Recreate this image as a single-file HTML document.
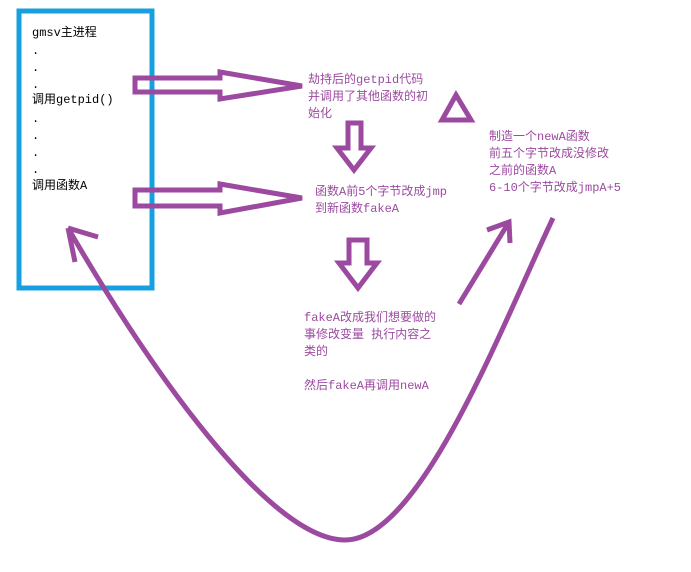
<!DOCTYPE html>
<html><head><meta charset="utf-8"><style>
body{margin:0;background:#fff;width:691px;height:572px;overflow:hidden}
svg{display:block}
text{font-family:"Liberation Mono","Noto Sans CJK SC",monospace;font-size:12px}
.p{fill:#9b4a9f}
</style></head><body>
<svg width="691" height="572" xmlns="http://www.w3.org/2000/svg">
<rect x="19" y="11" width="133" height="277" fill="none" stroke="#17a0e0" stroke-width="5"/>
<g fill="#000">
<text x="32" y="36">gmsv主进程</text>
<text x="32" y="54">.</text><text x="32" y="71">.</text><text x="32" y="88">.</text>
<text x="32" y="103">调用getpid()</text>
<text x="32" y="122">.</text><text x="32" y="139">.</text><text x="32" y="156">.</text><text x="32" y="173">.</text>
<text x="32" y="189">调用函数A</text>
</g>
<g fill="none" stroke="#9b4a9f" stroke-width="5" stroke-linejoin="miter">
<path d="M220 78 L135 78 L135 92 L220 92 L220 99 L302 86 L220 72 Z"/>
<path d="M220 190 L135 190 L135 206 L220 206 L220 213 L302 198 L220 184 Z"/>
<path d="M348 123 L348 148 L337 148 L354 170 L371 148 L361 148 L361 123 Z"/>
<path d="M349 240 L349 263 L339 263 L358 288 L377 263 L367 263 L367 240 Z"/>
<path d="M442 120 L456 95 L471 120 Z"/>
<path d="M459 304 L509 222 M487 230 L509 222 L510 243"/>
<path d="M553 218 C500 330 420 540 345 540 C270 540 150 370 68 228 M68 228 L98 237 M68 228 L75 262"/>
</g>
<g class="p">
<text x="308" y="83">劫持后的getpid代码</text>
<text x="308" y="100">并调用了其他函数的初</text>
<text x="308" y="117">始化</text>
<text x="315" y="195">函数A前5个字节改成jmp</text>
<text x="315" y="212">到新函数fakeA</text>
<text x="489" y="140">制造一个newA函数</text>
<text x="489" y="157">前五个字节改成没修改</text>
<text x="489" y="174">之前的函数A</text>
<text x="489" y="191">6-10个字节改成jmpA+5</text>
<text x="304" y="321">fakeA改成我们想要做的</text>
<text x="304" y="338">事修改变量 执行内容之</text>
<text x="304" y="355">类的</text>
<text x="304" y="389">然后fakeA再调用newA</text>
</g>
</svg>
</body></html>
